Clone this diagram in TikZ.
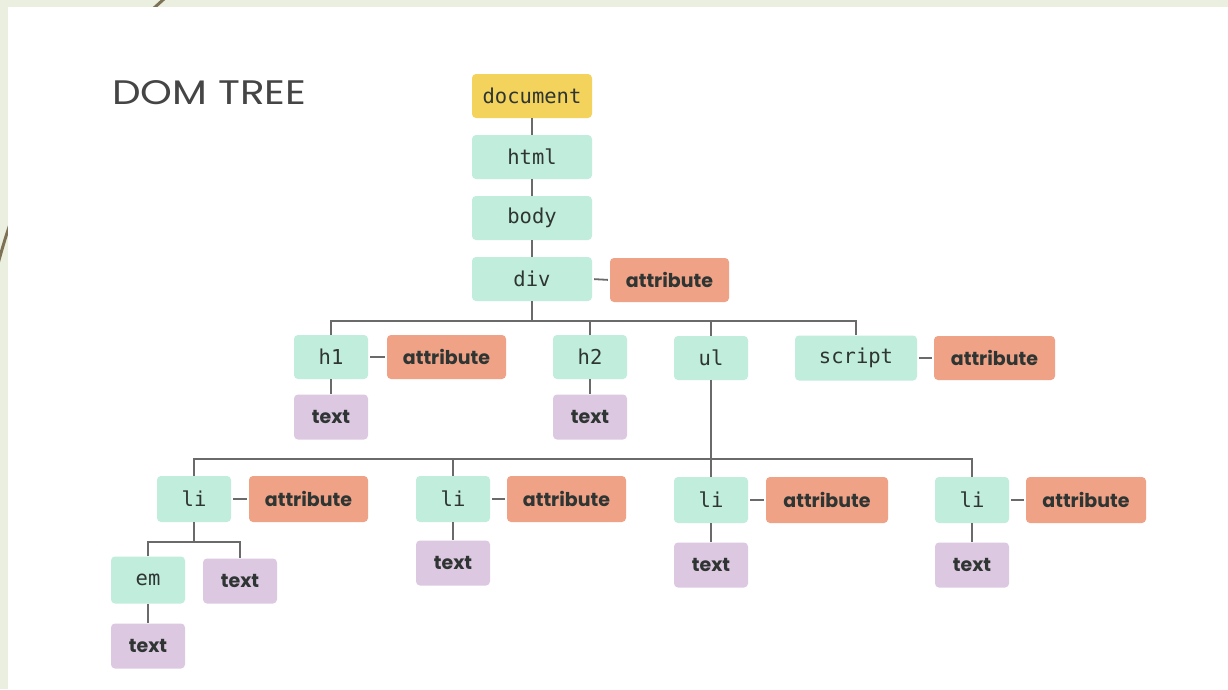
\documentclass[tikz,border=0pt]{standalone}
\usepackage{fontspec}
\newfontfamily\tagfont{DejaVu Sans Mono}
\newfontfamily\lblfont{Poppins}
\newfontfamily\titlefont[FakeStretch=1.19]{Poppins}
\definecolor{bgc}{HTML}{EBEFDF}
\definecolor{arcc}{HTML}{7D7256}
\definecolor{docc}{HTML}{F4D35C}
\definecolor{tagc}{HTML}{C1EDDC}
\definecolor{attrc}{HTML}{EFA286}
\definecolor{txtc}{HTML}{DDC8E2}
\definecolor{linec}{HTML}{6A6A6A}
\definecolor{inkc}{HTML}{2E3532}
\definecolor{titlec}{HTML}{454545}
\begin{document}
\begin{tikzpicture}[x=1pt,y=-1pt,
  box/.style={rectangle, rounded corners=4pt, inner sep=0pt, text=inkc},
  tag/.style={box, fill=tagc, font=\tagfont\fontsize{20.5}{20.5}\selectfont},
  wide/.style={minimum width=120pt, minimum height=44pt},
  small/.style={minimum width=74pt, minimum height=44pt},
  doc/.style={tag, wide, fill=docc},
  attr/.style={box, fill=attrc, minimum width=119pt, minimum height=44pt, font=\lblfont\bfseries\fontsize{19}{19}\selectfont},
  txt/.style={box, fill=txtc, minimum width=74pt, minimum height=45pt, font=\lblfont\bfseries\fontsize{19}{19}\selectfont},
  link/.style={draw=linec, line width=1.8pt},
  alink/.style={link, shorten <=2pt, shorten >=2pt}]
\useasboundingbox (0,0) rectangle (1228,689);
\begin{scope}
\clip (0,0) rectangle (1228,689);
\fill[bgc] (0,0) rectangle (1228,689);
\draw[arcc, line width=3pt] (172,-8) .. controls (70,80) and (20,170) .. (-6,280);
\fill[white] (8,7) rectangle (1228,689);
\end{scope}

\node[font=\titlefont\fontsize{34}{34}\selectfont, text=titlec, anchor=base west, inner sep=0pt] (title) at (112,104) {DOM TREE};

\node[doc] (document) at (532,96) {document};
\node[tag, wide] (html) at (532,157) {html};
\node[tag, wide] (body) at (532,218) {body};
\node[tag, wide] (div) at (532,279) {div};
\node[attr] (divattr) at (669.5,280) {attribute};

\node[tag, small] (h1) at (331,357) {h1};
\node[attr] (h1attr) at (446.5,357) {attribute};
\node[txt] (h1text) at (331,417) {text};
\node[tag, small] (h2) at (590,357) {h2};
\node[txt] (h2text) at (590,417) {text};
\node[tag, small] (ul) at (711,358) {ul};
\node[tag, minimum width=122pt, minimum height=45pt] (script) at (856,358) {script};
\node[attr, minimum width=121pt] (scriptattr) at (994.5,358) {attribute};

\node[tag, small, minimum height=46pt] (li1) at (194,499) {li};
\node[attr, minimum height=46pt] (li1attr) at (308.5,499) {attribute};
\node[tag, small, minimum height=47pt] (em) at (148,580) {em};
\node[txt] (li1text) at (240,581) {text};
\node[txt] (emtext) at (148,646) {text};
\node[tag, small, minimum height=46pt] (li2) at (453,499) {li};
\node[attr, minimum height=46pt] (li2attr) at (566.5,499) {attribute};
\node[txt] (li2text) at (453,563) {text};
\node[tag, small, minimum height=46pt] (li3) at (711,500) {li};
\node[attr, minimum height=46pt, minimum width=122pt] (li3attr) at (827,500) {attribute};
\node[txt] (li3text) at (711,565) {text};
\node[tag, small, minimum height=46pt] (li4) at (972,500) {li};
\node[attr, minimum height=46pt, minimum width=120pt] (li4attr) at (1086,500) {attribute};
\node[txt] (li4text) at (972,565) {text};

\coordinate (bus1) at (0,321);
\coordinate (bus2) at (0,459);
\coordinate (bus3) at (0,542);

\draw[link] (document.south) -- (html.north);
\draw[link] (html.south) -- (body.north);
\draw[link] (body.south) -- (div.north);
\draw[alink] (div.east) -- (divattr.west);
\draw[link] (div.south) -- (div.south |- bus1);
\draw[link] (h1.north) -- (h1.north |- bus1) -- (script.north |- bus1) -- (script.north);
\draw[link] (h2.north) -- (h2.north |- bus1);
\draw[link] (ul.north) -- (ul.north |- bus1);
\draw[alink] (h1.east) -- (h1attr.west);
\draw[alink] (script.east) -- (scriptattr.west);
\draw[link] (h1.south) -- (h1text.north);
\draw[link] (h2.south) -- (h2text.north);
\draw[link] (ul.south) -- (li3.north);
\draw[link] (li1.north) -- (li1.north |- bus2) -- (li4.north |- bus2) -- (li4.north);
\draw[link] (li2.north) -- (li2.north |- bus2);
\draw[alink] (li1.east) -- (li1attr.west);
\draw[alink] (li2.east) -- (li2attr.west);
\draw[alink] (li3.east) -- (li3attr.west);
\draw[alink] (li4.east) -- (li4attr.west);
\draw[link] (li1.south) -- (li1.south |- bus3);
\draw[link] (em.north) -- (em.north |- bus3) -- (li1text.north |- bus3) -- (li1text.north);
\draw[link] (em.south) -- (emtext.north);
\draw[link] (li2.south) -- (li2text.north);
\draw[link] (li3.south) -- (li3text.north);
\draw[link] (li4.south) -- (li4text.north);
\end{tikzpicture}
\end{document}
